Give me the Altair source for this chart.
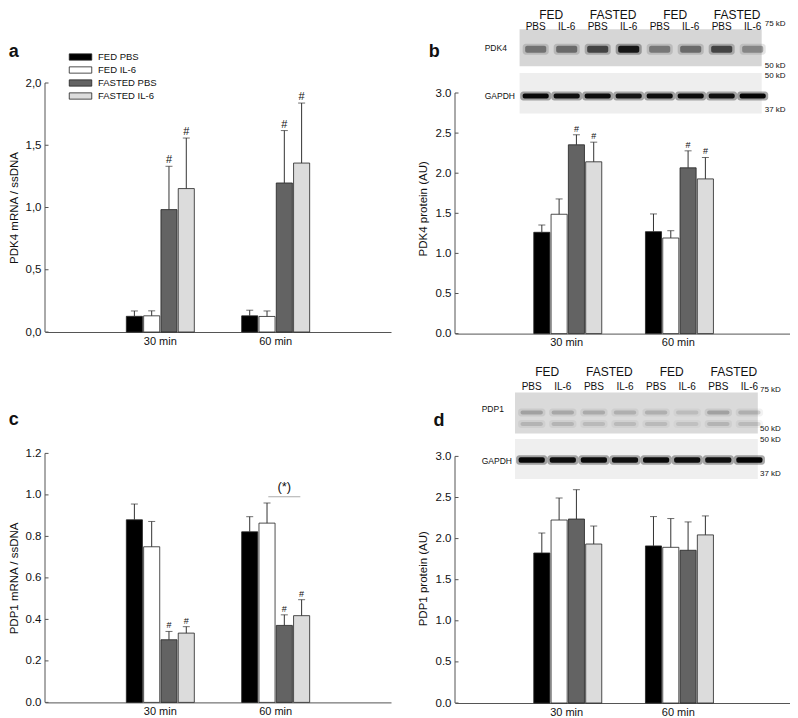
import altair as alt
import pandas as pd

FONT = "Liberation Sans"
AX = "#555555"
INK = "#222222"

groups = ["FED PBS", "FED IL-6", "FASTED PBS", "FASTED IL-6"]
times = ["30 min", "60 min"]
fills = ["#000000", "#ffffff", "#636363", "#dcdcdc"]

# order: 30 min (FED PBS, FED IL-6, FASTED PBS, FASTED IL-6), then 60 min
a_mean = [0.126, 0.130, 0.983, 1.152, 0.130, 0.125, 1.197, 1.357]
a_err = [0.043, 0.040, 0.348, 0.406, 0.045, 0.044, 0.421, 0.482]
a_sig = ["", "", "#", "#", "", "", "#", "#"]
a_ticks = [0.0, 0.5, 1.0, 1.5, 2.0]

b_mean = [1.263, 1.488, 2.354, 2.142, 1.271, 1.192, 2.067, 1.929]
b_err = [0.091, 0.191, 0.125, 0.245, 0.221, 0.091, 0.212, 0.267]
b_sig = ["", "", "#", "#", "", "", "#", "#"]
b_ticks = [0.0, 0.5, 1.0, 1.5, 2.0, 2.5, 3.0]

c_mean = [0.880, 0.750, 0.302, 0.334, 0.822, 0.864, 0.371, 0.418]
c_err = [0.076, 0.122, 0.040, 0.031, 0.073, 0.097, 0.051, 0.077]
c_sig = ["", "", "#", "#", "", "", "#", "#"]
c_ticks = [0.0, 0.2, 0.4, 0.6, 0.8, 1.0, 1.2]
c_bracket = {"time": "60 min", "group": "FASTED PBS", "v": 0.991, "t": "(*)"}

d_mean = [1.825, 2.226, 2.238, 1.934, 1.911, 1.894, 1.858, 2.045]
d_err = [0.243, 0.268, 0.357, 0.219, 0.357, 0.350, 0.345, 0.231]
d_sig = ["", "", "", "", "", "", "", ""]
d_ticks = [0.0, 0.5, 1.0, 1.5, 2.0, 2.5, 3.0]

# western blot lanes
lane_treat = ["PBS", "IL-6", "PBS", "IL-6", "PBS", "IL-6", "PBS", "IL-6"]
lane_state = ["FED", "FASTED", "FED", "FASTED"]
b_pdk4 = [0.38, 0.42, 0.60, 0.85, 0.36, 0.42, 0.60, 0.30]
b_gapdh = [0.95, 0.90, 0.92, 0.88, 0.92, 0.93, 0.90, 0.97]
d_pdp1_upper = [0.20, 0.18, 0.17, 0.15, 0.15, 0.10, 0.20, 0.15]
d_pdp1_lower = [0.13, 0.13, 0.11, 0.11, 0.11, 0.09, 0.13, 0.11]
d_gapdh = [0.95, 0.92, 0.93, 0.90, 0.93, 0.92, 0.90, 0.97]
kd_labels = ["75 kD", "50 kD", "50 kD", "37 kD"]


def frame(mean, err, sig):
    rows = []
    for i, (m, e, s) in enumerate(zip(mean, err, sig)):
        rows.append({"time": times[i // 4], "group": groups[i % 4],
                     "mean": m, "hi": m + e, "sig": s})
    return pd.DataFrame(rows)


def text_at(t, x, y, size, align="left", baseline="middle", weight="normal"):
    return alt.Chart(pd.DataFrame({"t": [t]})).mark_text(
        align=align, baseline=baseline, fontSize=size, fontWeight=weight,
        font=FONT, color="#111111").encode(text="t:N", x=alt.value(x), y=alt.value(y))


def panel(mean, err, sig, ticks, ytop, W, H, ytitle, title_x, label_expr,
          sig_size, letter, letter_xy, legend=None, extra=None, xpad=3):
    df = frame(mean, err, sig)
    x = alt.X("time:N", scale=alt.Scale(domain=times, paddingInner=0.4, paddingOuter=0.7),
              axis=alt.Axis(title=None, labelAngle=0, ticks=False, tickSize=0, labelPadding=xpad,
                            domainColor=AX, domainWidth=1, labelFontSize=11, grid=False))
    xo = alt.XOffset("group:N", scale=alt.Scale(domain=groups, paddingInner=0.07, paddingOuter=0.035))
    ys = alt.Scale(domain=[0, ytop], nice=False, zero=False)
    ya = alt.Axis(values=ticks, labelExpr=label_expr, domain=False, ticks=False, tickSize=0,
                  labelPadding=4, grid=False, titleX=title_x, titleY=H / 2, titleAngle=-90,
                  titleBaseline="middle", titleAlign="center", titleFontSize=11.5,
                  titleFontWeight="normal", labelFontSize=11.5)

    def Y(f):
        return alt.Y(f, scale=ys, axis=ya, title=ytitle)

    base = alt.Chart(df)
    fill = alt.Fill("group:N", scale=alt.Scale(domain=groups, range=fills), legend=legend)
    bars = base.mark_bar(stroke=INK, strokeWidth=0.8).encode(x=x, xOffset=xo, y=Y("mean:Q"), fill=fill)
    errs = base.mark_rule(color="#333333", strokeWidth=1).encode(x=x, xOffset=xo, y=Y("mean:Q"), y2="hi:Q")
    caps = base.mark_tick(color="#333333", thickness=1, size=7, orient="horizontal").encode(
        x=x, xOffset=xo, y=Y("hi:Q"))
    stars = base.mark_text(baseline="alphabetic", dy=-3, fontSize=sig_size, font=FONT,
                           color="#111111").encode(x=x, xOffset=xo, y=Y("hi:Q"), text="sig:N")
    yline = alt.Chart(pd.DataFrame({"lo": [0.0], "top": [ticks[-1]]})).mark_rule(
        color=AX, strokeWidth=1).encode(x=alt.value(0), y=Y("lo:Q"), y2="top:Q")
    yticks = alt.Chart(pd.DataFrame({"v": ticks})).mark_rule(color=AX, strokeWidth=1).encode(
        x=alt.value(0), x2=alt.value(3.5), y=Y("v:Q"))
    lab = text_at(letter, letter_xy[0], letter_xy[1], 18, baseline="alphabetic", weight="bold")
    layers = [bars, errs, caps, stars, yline, yticks, lab]
    if extra is not None:
        bdf = pd.DataFrame([extra])
        layers.append(alt.Chart(bdf).mark_tick(color="#888888", thickness=1, size=32,
                                               orient="horizontal").encode(x=x, xOffset=xo, y=Y("v:Q")))
        layers.append(alt.Chart(bdf).mark_text(baseline="alphabetic", dy=-5.5, fontSize=13,
                                               font=FONT, color="#111111").encode(
            x=x, xOffset=xo, y=Y("v:Q"), text="t:N"))
    return alt.layer(*layers).properties(width=W, height=H)


def blot(W, lane_left, step, edges, boxes, bands, state_y, treat_y, names, kd_x, kd_y):
    sc = alt.Scale(domain=[-lane_left / step, (W - lane_left) / step])
    parts = []
    for (top, bot, col) in boxes:
        parts.append(alt.Chart(pd.DataFrame({"lo": [edges[0]], "hi": [edges[1]]})).mark_rect(
            fill=col).encode(x=alt.X("lo:Q", scale=sc, axis=None), x2="hi:Q",
                             y=alt.value(top), y2=alt.value(bot)))
    for (yc, h, half, ops) in bands:
        bdf = pd.DataFrame({"lane": list(range(8)), "op": ops})
        bdf["lo"] = bdf["lane"] - half
        bdf["hi"] = bdf["lane"] + half
        bdf["lo2"] = bdf["lane"] - half - 0.08
        bdf["hi2"] = bdf["lane"] + half + 0.08
        bdf["op2"] = bdf["op"] * 0.35
        parts.append(alt.Chart(bdf).mark_rect(fill="#000000", cornerRadius=3).encode(
            x=alt.X("lo2:Q", scale=sc, axis=None), x2="hi2:Q",
            y=alt.value(yc - h / 2 - 2), y2=alt.value(yc + h / 2 + 2),
            opacity=alt.Opacity("op2:Q", scale=None)))
        parts.append(alt.Chart(bdf).mark_rect(fill="#000000", cornerRadius=2).encode(
            x=alt.X("lo:Q", scale=sc, axis=None), x2="hi:Q",
            y=alt.value(yc - h / 2), y2=alt.value(yc + h / 2),
            opacity=alt.Opacity("op:Q", scale=None)))
    sdf = pd.DataFrame({"t": lane_state, "c": [2 * i + 0.5 for i in range(4)]})
    parts.append(alt.Chart(sdf).mark_text(baseline="alphabetic", fontSize=12, font=FONT,
                                          color="#111111").encode(
        x=alt.X("c:Q", scale=sc, axis=None), y=alt.value(state_y), text="t:N"))
    tdf = pd.DataFrame({"t": lane_treat, "c": list(range(8))})
    parts.append(alt.Chart(tdf).mark_text(baseline="alphabetic", fontSize=10, font=FONT,
                                          color="#111111").encode(
        x=alt.X("c:Q", scale=sc, axis=None), y=alt.value(treat_y), text="t:N"))
    for (t, nx, ny) in names:
        parts.append(text_at(t, nx, ny, 8.5))
    for t, ky in zip(kd_labels, kd_y):
        parts.append(text_at(t, kd_x, ky, 8))
    return alt.layer(*parts)


leg = alt.Legend(orient="none", legendX=30.5, legendY=-31, title=None,
                 symbolType="M-2.5,-0.7H2.5V0.7H-2.5Z", symbolSize=81,
                 symbolStrokeColor=INK, symbolStrokeWidth=0.8, symbolOpacity=1,
                 labelFontSize=9.5, labelOffset=12.5, rowPadding=3, padding=0,
                 labelFont=FONT, labelColor="#111111")

comma = "replace(format(datum.value, '.1f'), '.', ',')"
dot = "format(datum.value, '.1f')"

pa = panel(a_mean, a_err, a_sig, a_ticks, 2.0, 346, 249, "PDK4 mRNA / ssDNA", -30.3, comma,
           11, "a", (-36.3, -25.7), legend=leg)
pb_in = panel(b_mean, b_err, b_sig, b_ticks, 3.1247, 335, 250.6, "PDK4 protein (AU)", -31.6, dot,
              9, "b", (-26.3, -25.7))
pb_blot = blot(335, 80.7, 31.0, (-0.52, 7.29),
               [(-53.7, -16.7, "#d6d6d6"), (-10, 30.6, "#eeeeee")],
               [(-33.7, 7, 0.34, b_pdk4), (13, 5, 0.42, b_gapdh)],
               -64.2, -52.7, [("PDK4", 29.7, -34.7), ("GAPDH", 29.7, 13.3)],
               309.7, [-59.4, -17.4, -7, 26.6])
pb = alt.layer(pb_in, pb_blot).resolve_scale(x="independent").properties(width=335, height=250.6)

pc = panel(c_mean, c_err, c_sig, c_ticks, 1.2, 346, 249, "PDP1 mRNA / ssDNA", -30.3, dot,
           9, "c", (-36.3, -28.7), extra=c_bracket, xpad=3)
pd_in = panel(d_mean, d_err, d_sig, d_ticks, 3.0365, 335, 249.6, "PDP1 protein (AU)", -31.8, dot,
              9, "d", (-21.6, -27.7), xpad=3)
pd_blot = blot(335, 76.7, 31.1, (-0.537, 7.27),
               [(-61, -20, "#dadada"), (-14.4, 25.6, "#efefef")],
               [(-41, 4, 0.36, d_pdp1_upper), (-29.4, 4, 0.36, d_pdp1_lower), (6.6, 5.5, 0.42, d_gapdh)],
               -77.7, -63.4, [("PDP1", 26.7, -44.4), ("GAPDH", 26.7, 7.8)],
               305, [-63.4, -24, -13.4, 20.6])
pdd = alt.layer(pd_in, pd_blot).resolve_scale(x="independent").properties(width=335, height=249.6)

chart = alt.concat(pa, pb, pc, pdd, columns=2, spacing={"row": 119.4, "column": 64},
                   bounds="flush", padding=0).resolve_scale(fill="independent").configure_view(
    stroke=None).configure_axis(labelFont=FONT, titleFont=FONT, labelColor="#111111",
                                titleColor="#111111").configure_text(font=FONT)

chart.save("out.html", embed_options={"renderer": "svg", "actions": False})
